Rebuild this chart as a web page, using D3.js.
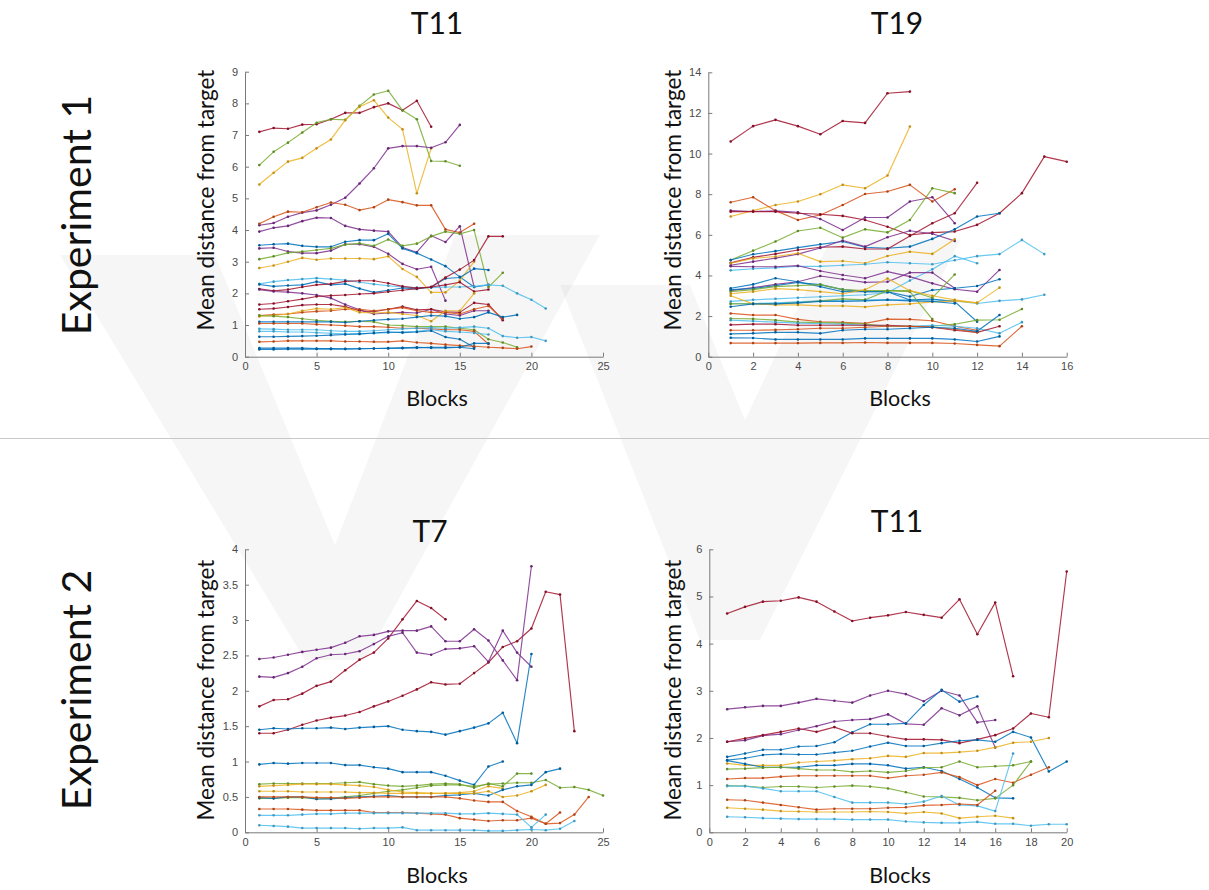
<!DOCTYPE html>
<html>
<head>
<meta charset="utf-8">
<script src="https://cdn.jsdelivr.net/npm/d3@7"></script>
<style>
  html, body { margin: 0; padding: 0; background: #fff; }
  svg { display: block; }
  .tick text { font-family: "Liberation Sans", Arial, sans-serif; font-size: 11px; fill: #4a4a4a; }
  .tick line, .domain { stroke: #7a7a7a; }
</style>
</head>
<body>
<svg id="chart" width="1209" height="890"></svg>
<script>
// MATLAB-style default colour order, keyed by name
const palette = {
  blue: "#0072BD", orange: "#D95319", yellow: "#EDB120", purple: "#7E2F8E",
  green: "#77AC30", cyan: "#4DBEEE", red: "#A2142F"
};

// ---------- Experiment 1, target T11 (values per block, starting at block 1) ----------
const exp1T11Colors = ["red","green","yellow","purple","orange","purple","blue","purple","green","yellow",
  "cyan","blue","red","purple","red","red","orange","yellow","green","blue","orange","cyan","cyan","blue",
  "orange","blue","blue"];
const exp1T11Values = [
  [7.1,7.22,7.2,7.33,7.34,7.5,7.7,7.7,7.88,8.0,7.78,8.08,7.26],
  [6.05,6.47,6.76,7.08,7.39,7.5,7.48,7.92,8.28,8.4,7.78,7.5,6.18,6.17,6.03],
  [5.44,5.81,6.16,6.28,6.58,6.86,7.47,7.89,8.1,7.55,7.18,5.16,6.58],
  [4.15,4.22,4.42,4.55,4.62,4.8,5.02,5.47,5.95,6.58,6.65,6.65,6.6,6.77,7.32],
  [4.2,4.42,4.58,4.56,4.72,4.87,4.8,4.63,4.72,4.96,4.88,4.78,4.78,4.02,3.92,4.2],
  [3.95,4.07,4.13,4.28,4.39,4.38,4.13,4.02,3.98,3.95,3.45,3.3,3.82,3.62,4.12,2.2],
  [3.52,3.55,3.57,3.5,3.47,3.47,3.63,3.68,3.68,3.88,3.42,3.27,3.07,2.86,2.52,2.2,2.27],
  [3.42,3.44,3.32,3.27,3.27,3.35,3.55,3.55,3.47,3.25,2.93,2.76,2.84,1.77],
  [3.08,3.17,3.28,3.32,3.37,3.42,3.54,3.58,3.5,3.7,3.5,3.57,3.8,3.95,3.88,4.0,2.2,2.65],
  [2.8,2.88,3.0,3.12,3.06,3.1,3.1,3.1,3.08,3.17,2.77,2.52,2.03,2.03,2.4,3.0],
  [2.3,2.37,2.42,2.45,2.48,2.45,2.42,2.35,2.29,2.24,2.2,2.18,2.18,2.2,2.2,2.22,2.27,2.24,2.0,1.8,1.52],
  [2.28,2.22,2.25,2.27,2.37,2.27,2.3,2.15,2.03,2.1,2.17,2.14,2.2,2.47,2.5,2.78,2.74],
  [2.14,2.08,2.12,2.2,2.27,2.3,2.38,2.4,2.4,2.32,2.22,2.17,2.2,2.27,2.35,2.06,2.12],
  [2.12,2.06,2.04,2.0,1.95,1.85,1.65,1.48,1.35,1.38,1.4,1.38,1.5,1.35,1.3,1.45,1.45],
  [1.65,1.68,1.75,1.82,1.9,1.93,1.95,1.98,2.0,2.05,2.1,2.15,2.2,2.5,2.75,3.05,3.8,3.8],
  [1.5,1.52,1.57,1.63,1.65,1.65,1.58,1.45,1.42,1.5,1.58,1.48,1.5,1.42,1.4,1.7,1.65,1.15],
  [1.3,1.33,1.35,1.4,1.43,1.45,1.5,1.5,1.45,1.5,1.55,1.45,1.4,1.4,1.35,1.5,1.6,1.2],
  [1.27,1.3,1.35,1.45,1.52,1.5,1.55,1.4,1.38,1.4,1.35,1.3,1.12,1.45,1.45,2.0],
  [1.3,1.28,1.25,1.2,1.15,1.12,1.1,1.12,1.1,1.0,0.98,0.95,0.95,0.95,0.9,0.85,0.55,0.45,0.3],
  [1.1,1.1,1.1,1.1,1.1,1.1,1.08,1.12,1.15,1.18,1.2,1.25,1.3,1.28,1.2,1.25,1.4,1.25,1.32],
  [1.05,1.05,1.05,1.05,1.02,1.0,0.98,0.95,0.95,0.93,0.9,0.9,0.88,0.85,0.85,0.8,0.4],
  [0.88,0.87,0.85,0.85,0.85,0.82,0.8,0.8,0.82,0.85,0.88,0.9,0.92,0.9,0.92,0.95,0.9,0.65,0.6,0.62,0.5],
  [0.8,0.8,0.78,0.78,0.76,0.74,0.72,0.72,0.74,0.76,0.78,0.8,0.85,0.8,0.78,0.75,0.7],
  [0.63,0.63,0.64,0.65,0.66,0.68,0.7,0.72,0.75,0.78,0.76,0.78,0.82,0.62,0.55,0.3],
  [0.47,0.48,0.5,0.5,0.5,0.5,0.48,0.48,0.47,0.47,0.5,0.45,0.42,0.38,0.35,0.33,0.3,0.28,0.25,0.32],
  [0.27,0.27,0.27,0.27,0.26,0.26,0.25,0.25,0.26,0.27,0.28,0.3,0.28,0.28,0.3,0.42,0.42],
  [0.23,0.23,0.24,0.24,0.24,0.24,0.24,0.25,0.26,0.26,0.27,0.28,0.3,0.3,0.3,0.25]
];
const exp1T11XTicks = [0,5,10,15,20,25];
const exp1T11YTicks = [0,1,2,3,4,5,6,7,8,9];

// ---------- Experiment 1, target T19 ----------
const exp1T19Colors = ["red","yellow","orange","purple","red","green","blue","red","purple","yellow",
  "cyan","cyan","cyan","purple","purple","blue","blue","green","green","yellow","yellow","blue",
  "orange","green","cyan","red","orange","blue","blue","orange"];
const exp1T19Values = [
  [10.59,11.35,11.66,11.35,10.95,11.6,11.51,12.97,13.05],
  [6.9,7.19,7.47,7.64,8.0,8.46,8.29,8.92,11.33],
  [7.6,7.85,7.19,6.73,6.98,7.47,8.01,8.13,8.46,7.64,8.24],
  [7.19,7.15,7.18,7.11,6.78,6.24,6.85,6.85,7.64,7.85,6.57],
  [7.14,7.14,7.14,7.06,7.01,6.93,6.73,6.4,5.99,6.11,6.16,6.49,7.06,8.05,9.85,9.6],
  [4.76,5.22,5.67,6.19,6.35,5.86,6.27,6.12,6.73,8.29,8.05],
  [4.76,5.04,5.2,5.37,5.53,5.67,5.39,5.34,5.42,5.8,6.27,6.9,7.06],
  [4.62,4.89,5.06,5.25,5.39,5.42,5.3,5.3,5.94,6.57,7.06,8.56],
  [4.5,4.68,4.85,5.05,5.35,5.72,5.42,5.88,6.2,6.05,5.7],
  [4.6,4.84,4.93,5.09,4.68,4.71,4.6,4.96,5.17,5.06,5.78],
  [4.25,4.33,4.37,4.45,4.45,4.5,4.55,4.65,4.6,4.55,4.75,4.95,5.05,5.75,5.05],
  [2.72,2.8,2.85,2.9,2.95,3.0,3.05,3.15,3.75,4.3,4.95,4.6],
  [2.62,2.62,2.65,2.7,2.75,2.78,2.8,2.8,2.8,2.8,2.75,2.62,2.75,2.82,3.05],
  [4.45,4.43,4.43,4.48,4.22,4.02,3.86,4.19,3.94,3.61,3.32,3.2,4.27],
  [3.25,3.4,3.56,3.69,3.97,3.81,3.66,3.69,4.14,4.14,3.37],
  [3.37,3.56,3.86,3.69,3.45,3.2,3.2,3.2,2.79,2.84,2.71,1.72],
  [3.3,3.35,3.5,3.65,3.55,3.3,3.2,3.2,2.96,3.28,3.37,3.48,3.81],
  [3.2,3.3,3.45,3.5,3.55,3.3,3.25,3.25,3.2,1.85],
  [2.6,2.6,2.6,2.65,2.75,2.85,2.8,3.25,3.25,2.9,4.05],
  [3.1,3.2,3.35,3.3,3.2,3.1,3.3,3.85,3.25,3.0,2.8,2.65,3.4],
  [3.0,2.6,2.55,2.55,2.5,2.5,2.45,2.55,2.6,2.7,2.75,2.65],
  [2.46,2.6,2.6,2.65,2.72,2.72,2.75,2.8,2.75,2.72,2.62],
  [2.13,2.05,2.05,1.84,1.72,1.69,1.64,1.85,1.84,1.77,1.5,1.3],
  [1.88,1.86,1.8,1.7,1.68,1.65,1.6,1.5,1.5,1.5,1.6,1.8,1.82,2.35],
  [1.8,1.75,1.7,1.65,1.62,1.6,1.55,1.5,1.5,1.55,1.5,1.4,1.15,1.7],
  [1.57,1.6,1.6,1.55,1.55,1.55,1.55,1.55,1.5,1.45,1.3,1.2,1.5],
  [1.3,1.3,1.32,1.35,1.4,1.4,1.45,1.5,1.5,1.45,1.35,1.2],
  [1.12,1.15,1.2,1.2,1.15,1.3,1.35,1.35,1.4,1.45,1.4,1.25,2.05],
  [0.93,0.92,0.85,0.85,0.85,0.85,0.9,0.9,0.9,0.9,0.85,0.75,1.0],
  [0.67,0.67,0.67,0.67,0.68,0.68,0.7,0.68,0.68,0.68,0.65,0.58,0.52,1.5]
];
const exp1T19XTicks = [0,2,4,6,8,10,12,14,16];
const exp1T19YTicks = [0,2,4,6,8,10,12,14];

// ---------- Experiment 2, target T7 ----------
const exp2T7Colors = ["red","red","purple","purple","blue","blue","green","green","yellow","blue",
  "yellow","orange","orange","cyan","cyan"];
const exp2T7Values = [
  [1.78,1.87,1.88,1.96,2.07,2.13,2.29,2.44,2.54,2.74,3.01,3.27,3.17,3.01],
  [1.4,1.4,1.45,1.52,1.58,1.62,1.65,1.7,1.78,1.85,1.93,2.02,2.12,2.09,2.1,2.25,2.4,2.62,2.7,2.88,3.4,3.36,1.43],
  [2.45,2.47,2.51,2.55,2.58,2.61,2.68,2.77,2.79,2.84,2.85,2.85,2.91,2.7,2.7,2.87,2.71,2.43,2.15,3.76],
  [2.2,2.19,2.25,2.34,2.46,2.51,2.52,2.56,2.66,2.77,2.82,2.54,2.51,2.59,2.6,2.63,2.41,2.85,2.54,2.34],
  [1.45,1.47,1.46,1.47,1.47,1.48,1.46,1.48,1.49,1.5,1.45,1.43,1.42,1.38,1.43,1.48,1.54,1.69,1.26,2.52],
  [0.96,0.98,0.97,0.98,0.98,0.98,0.95,0.95,0.92,0.9,0.85,0.85,0.85,0.8,0.73,0.67,0.93,1.0],
  [0.68,0.69,0.69,0.69,0.69,0.69,0.7,0.71,0.68,0.66,0.65,0.66,0.68,0.69,0.68,0.63,0.69,0.65,0.83,0.83],
  [0.48,0.48,0.49,0.49,0.47,0.48,0.5,0.52,0.55,0.58,0.6,0.63,0.66,0.67,0.67,0.65,0.68,0.69,0.7,0.7,0.74,0.63,0.64,0.6,0.52],
  [0.65,0.66,0.67,0.68,0.68,0.68,0.67,0.66,0.64,0.6,0.57,0.56,0.55,0.55,0.56,0.58,0.65,0.62],
  [0.49,0.48,0.5,0.5,0.47,0.47,0.49,0.5,0.51,0.52,0.5,0.5,0.5,0.52,0.53,0.55,0.52,0.6,0.65,0.67,0.85,0.9],
  [0.58,0.58,0.58,0.57,0.57,0.57,0.57,0.56,0.56,0.55,0.55,0.55,0.55,0.55,0.55,0.55,0.58,0.5,0.52,0.58,0.67],
  [0.5,0.5,0.5,0.5,0.49,0.49,0.48,0.49,0.5,0.5,0.5,0.5,0.5,0.5,0.48,0.45,0.43,0.43,0.3,0.22,0.12,0.13,0.25,0.5],
  [0.33,0.33,0.33,0.32,0.31,0.31,0.31,0.31,0.28,0.28,0.28,0.27,0.26,0.25,0.2,0.18,0.16,0.17,0.17,0.2,0.12,0.28],
  [0.24,0.24,0.24,0.25,0.26,0.26,0.27,0.27,0.27,0.27,0.27,0.27,0.27,0.27,0.26,0.26,0.27,0.26,0.25,0.07,0.25],
  [0.1,0.09,0.08,0.06,0.06,0.06,0.06,0.05,0.06,0.06,0.07,0.03,0.03,0.03,0.03,0.03,0.02,0.02,0.03,0.04,0.03,0.05,0.16]
];
const exp2T7XTicks = [0,5,10,15,20,25];
const exp2T7YTicks = [0,0.5,1,1.5,2,2.5,3,3.5,4];

// ---------- Experiment 2, target T11 ----------
const exp2T11Colors = ["red","purple","purple","blue","red","blue","yellow","blue","green","orange",
  "green","cyan","orange","yellow","cyan"];
const exp2T11Values = [
  [4.64,4.78,4.89,4.91,4.98,4.89,4.68,4.48,4.55,4.6,4.67,4.61,4.55,4.94,4.2,4.87,3.31],
  [2.61,2.65,2.68,2.68,2.75,2.83,2.79,2.75,2.9,3.0,2.93,2.78,3.0,2.9,2.33,2.38],
  [1.92,1.95,2.05,2.08,2.17,2.25,2.35,2.38,2.4,2.5,2.3,2.28,2.63,2.48,2.67,1.8],
  [1.6,1.67,1.75,1.75,1.82,1.83,1.91,2.12,2.29,2.29,2.31,2.7,3.02,2.77,2.88],
  [1.92,1.99,2.06,2.13,2.2,2.13,2.23,2.1,2.1,2.03,1.97,1.97,1.96,1.89,1.97,2.06,2.2,2.52,2.44,5.53],
  [1.53,1.57,1.64,1.66,1.65,1.65,1.69,1.73,1.82,1.9,1.83,1.83,1.89,1.94,1.96,1.92,2.13,2.01,1.29,1.5],
  [1.46,1.42,1.42,1.42,1.48,1.5,1.52,1.55,1.57,1.62,1.6,1.68,1.68,1.7,1.73,1.8,1.9,1.92,2.0],
  [1.52,1.45,1.38,1.38,1.38,1.42,1.42,1.45,1.45,1.42,1.35,1.38,1.3,1.13,0.95,0.73,0.72],
  [1.34,1.35,1.37,1.38,1.35,1.32,1.32,1.28,1.3,1.27,1.3,1.37,1.38,1.5,1.38,1.4,1.42,1.5],
  [1.13,1.15,1.15,1.18,1.2,1.2,1.2,1.2,1.2,1.15,1.2,1.22,1.27,1.17,1.0,1.13,1.05,1.22,1.38],
  [0.99,0.98,0.95,0.97,0.97,0.95,0.97,0.99,0.97,0.93,0.85,0.76,0.75,0.73,0.68,0.72,1.0,1.5],
  [0.98,0.98,0.93,0.87,0.87,0.87,0.75,0.63,0.63,0.63,0.6,0.65,0.77,0.58,0.56,0.45,1.67],
  [0.69,0.68,0.63,0.58,0.53,0.48,0.5,0.5,0.5,0.52,0.53,0.57,0.58,0.6,0.58,0.88],
  [0.52,0.5,0.48,0.45,0.44,0.43,0.43,0.43,0.44,0.43,0.4,0.43,0.4,0.3,0.33,0.35,0.3],
  [0.33,0.32,0.3,0.29,0.28,0.28,0.28,0.27,0.27,0.27,0.23,0.21,0.2,0.2,0.22,0.18,0.18,0.14,0.17,0.17]
];
const exp2T11XTicks = [0,2,4,6,8,10,12,14,16,18,20];
const exp2T11YTicks = [0,1,2,3,4,5,6];

const svg = d3.select("#chart");

// faint background watermark chevrons
const watermark = svg.append("g").attr("fill", "#000").attr("fill-opacity", 0.035);
[
  [[60,255],[215,255],[335,545],[455,235],[600,235],[365,660],[305,660]],
  [[560,285],[690,285],[745,420],[830,240],[960,240],[760,640],[700,640]]
].forEach(pts => watermark.append("polygon").attr("points", pts.map(p => p.join(",")).join(" ")));

// separator between the two experiments
svg.append("line").attr("x1", 0).attr("x2", 1209).attr("y1", 438.5).attr("y2", 438.5)
  .attr("stroke", "#c8c8c8").attr("stroke-width", 1);

const panels = [
  { title: "T11", values: exp1T11Values, colors: exp1T11Colors, xTicks: exp1T11XTicks, yTicks: exp1T11YTicks,
    x0: 245, x1: 603, y0: 356.7, y1: 71.7, titleX: 437, titleY: 22, xLabelX: 437, xLabelY: 398, yLabelX: 205, yLabelY: 200 },
  { title: "T19", values: exp1T19Values, colors: exp1T19Colors, xTicks: exp1T19XTicks, yTicks: exp1T19YTicks,
    x0: 708.3, x1: 1066.7, y0: 356.7, y1: 72.3, titleX: 897, titleY: 22, xLabelX: 900, xLabelY: 398, yLabelX: 672, yLabelY: 200 },
  { title: "T7", values: exp2T7Values, colors: exp2T7Colors, xTicks: exp2T7XTicks, yTicks: exp2T7YTicks,
    x0: 245, x1: 603, y0: 832.3, y1: 549.3, titleX: 430, titleY: 530, xLabelX: 437, xLabelY: 875, yLabelX: 205, yLabelY: 690 },
  { title: "T11", values: exp2T11Values, colors: exp2T11Colors, xTicks: exp2T11XTicks, yTicks: exp2T11YTicks,
    x0: 709.3, x1: 1066.7, y0: 832.3, y1: 549.3, titleX: 897, titleY: 520, xLabelX: 900, xLabelY: 875, yLabelX: 672, yLabelY: 690 }
];

const bigFont = "Lato, 'Open Sans', sans-serif";

panels.forEach(p => {
  const xDom = d3.extent(p.xTicks), yDom = d3.extent(p.yTicks);
  const x = d3.scaleLinear().domain(xDom).range([p.x0, p.x1]);
  const y = d3.scaleLinear().domain(yDom).range([p.y0, p.y1]);
  const g = svg.append("g");

  // axes with inward ticks
  g.append("g").attr("transform", `translate(0,${p.y0})`)
    .call(d3.axisBottom(x).tickValues(p.xTicks).tickFormat(d => String(d)).tickSizeInner(-4).tickSizeOuter(0).tickPadding(6));
  g.append("g").attr("transform", `translate(${p.x0},0)`)
    .call(d3.axisLeft(y).tickValues(p.yTicks).tickFormat(d => String(d)).tickSizeInner(-4).tickSizeOuter(0).tickPadding(7));

  // one line per participant
  const line = d3.line().x((d, i) => x(i + 1)).y(d => y(d));
  const series = g.append("g").selectAll("g").data(p.values).join("g")
    .attr("data-color", (d, i) => p.colors[i]);
  series.append("path")
    .attr("d", line)
    .attr("fill", "none")
    .attr("stroke", (d, i) => palette[p.colors[i]])
    .attr("stroke-width", 1.15)
    .attr("stroke-opacity", 0.85)
    .attr("stroke-linejoin", "round");
  series.each(function(vals, si) {
    d3.select(this).selectAll("circle").data(vals).join("circle")
      .attr("cx", (d, i) => x(i + 1)).attr("cy", d => y(d)).attr("r", 1.3)
      .attr("fill", d3.color(palette[p.colors[si]]).darker(0.6));
  });

  // titles and axis labels
  g.append("text").attr("x", p.titleX).attr("y", p.titleY).attr("text-anchor", "middle")
    .attr("dominant-baseline", "central").attr("font-family", bigFont).attr("font-size", 30).attr("fill", "#111")
    .text(p.title);
  g.append("text").attr("x", p.xLabelX).attr("y", p.xLabelY).attr("text-anchor", "middle")
    .attr("dominant-baseline", "central").attr("font-family", bigFont).attr("font-size", 21.5).attr("fill", "#111")
    .text("Blocks");
  g.append("text").attr("transform", `translate(${p.yLabelX},${p.yLabelY}) rotate(-90)`)
    .attr("text-anchor", "middle").attr("dominant-baseline", "central")
    .attr("font-family", bigFont).attr("font-size", 22.5).attr("fill", "#111")
    .text("Mean distance from target");
});

// experiment row labels
[["Experiment 1", 215], ["Experiment 2", 690]].forEach(([label, cy]) => {
  svg.append("text").attr("transform", `translate(75,${cy}) rotate(-90)`)
    .attr("text-anchor", "middle").attr("dominant-baseline", "central")
    .attr("font-family", bigFont).attr("font-size", 41).attr("fill", "#111")
    .text(label);
});
</script>
</body>
</html>
